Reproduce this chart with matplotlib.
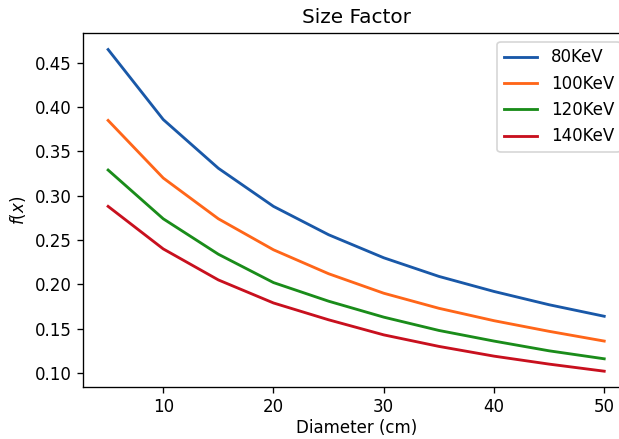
import numpy as np
import matplotlib
matplotlib.use('Agg')
import matplotlib.pyplot as plt

diameter = [5, 10, 15, 20, 25, 30, 35, 40, 45, 50]

kev_80 = [0.465, 0.386, 0.331, 0.288, 0.256, 0.230, 0.209, 0.192, 0.177, 0.164]
kev_100 = [0.385, 0.320, 0.274, 0.239, 0.212, 0.190, 0.173, 0.159, 0.147, 0.136]
kev_120 = [0.329, 0.274, 0.234, 0.202, 0.181, 0.163, 0.148, 0.136, 0.125, 0.116]
kev_140 = [0.288, 0.240, 0.205, 0.179, 0.160, 0.143, 0.130, 0.119, 0.110, 0.102]

labels = ['80KeV', '100KeV', '120KeV', '140KeV']
colors = ['#1958a8', '#ff6619', '#1a8c1a', '#c8101e']

DPI = 120
fig = plt.figure(figsize=(619 / DPI, 439 / DPI), dpi=DPI)
# axes runs past the right edge, the reference is cropped there
ax = fig.add_axes([0.1346, 0.1178, 0.8816, 0.806])

for series, label, color in zip([kev_80, kev_100, kev_120, kev_140], labels, colors):
	ax.plot(diameter, series, color=color, linewidth=1.7, label=label)

ax.set_xticks([10, 20, 30, 40, 50])
ax.set_yticks(np.arange(0.10, 0.46, 0.05))
ax.tick_params(axis='x', pad=3)
ax.set_xlabel('Diameter (cm)', labelpad=2)
ax.set_ylabel('$f(x)$')
ax.set_title('Size Factor')
ax.legend(loc='upper right')

fig.savefig('out.png', dpi=DPI)
